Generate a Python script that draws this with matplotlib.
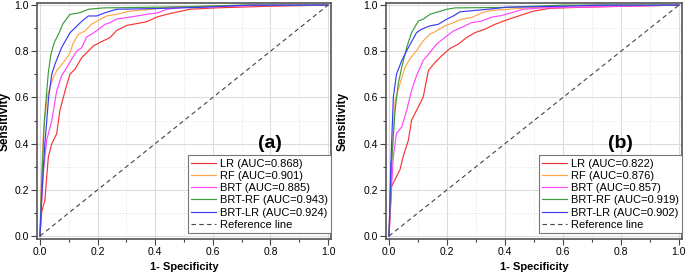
import matplotlib
matplotlib.use('Agg')
import matplotlib.pyplot as plt
from matplotlib.ticker import MultipleLocator

plt.rcParams['font.family'] = ['Liberation Sans', 'DejaVu Sans']

# ---- panel (a) ----
lr_a_x = [0, 0.006, 0.017, 0.029, 0.041, 0.058, 0.069, 0.087, 0.104, 0.122, 0.145, 0.162, 0.185,
          0.214, 0.243, 0.266, 0.301, 0.336, 0.37, 0.41, 0.44, 0.52, 0.61, 0.79, 1.0]
lr_a_y = [0, 0.105, 0.155, 0.342, 0.40, 0.443, 0.543, 0.629, 0.701, 0.723, 0.773, 0.794, 0.823,
          0.842, 0.859, 0.89, 0.912, 0.92, 0.928, 0.95, 0.96, 0.982, 0.988, 0.995, 1.0]
rf_a_x = [0, 0.005, 0.012, 0.025, 0.035, 0.046, 0.06, 0.081, 0.102, 0.116, 0.133, 0.156, 0.179,
          0.208, 0.231, 0.266, 0.3125, 0.382, 0.44, 0.6, 0.75, 1.0]
rf_a_y = [0, 0.25, 0.45, 0.6, 0.644, 0.687, 0.72, 0.751, 0.787, 0.837, 0.873, 0.888, 0.917,
          0.938, 0.953, 0.96, 0.974, 0.982, 0.99, 0.995, 1.0, 1.0]
brt_a_x = [0, 0.006, 0.012, 0.023, 0.041, 0.058, 0.075, 0.093, 0.11, 0.127, 0.145, 0.162, 0.179,
           0.203, 0.226, 0.243, 0.266, 0.3125, 0.37, 0.41, 0.44, 0.5, 0.75, 1.0]
brt_a_y = [0, 0.15, 0.28, 0.414, 0.5, 0.629, 0.694, 0.73, 0.766, 0.80, 0.816, 0.862, 0.874,
           0.895, 0.917, 0.924, 0.94, 0.948, 0.96, 0.967, 0.982, 0.99, 0.998, 1.0]
brtrf_a_x = [0, 0.005, 0.015, 0.029, 0.038, 0.05, 0.064, 0.08, 0.104, 0.139, 0.168, 0.22, 0.35,
             0.5, 0.7, 1.0]
brtrf_a_y = [0, 0.2, 0.5, 0.708, 0.787, 0.84, 0.873, 0.92, 0.96, 0.967, 0.982, 0.988, 0.99,
             0.993, 1.0, 1.0]
brtlr_a_x = [0, 0.005, 0.017, 0.03, 0.041, 0.052, 0.075, 0.104, 0.122, 0.145, 0.168, 0.197,
             0.226, 0.266, 0.4, 0.55, 0.73, 1.0]
brtlr_a_y = [0, 0.15, 0.4, 0.6, 0.701, 0.744, 0.816, 0.88, 0.902, 0.93, 0.953, 0.953,
             0.967, 0.982, 0.985, 0.99, 1.0, 1.0]

# ---- panel (b) ----
lr_b_x = [0, 0.009, 0.021, 0.038, 0.049, 0.067, 0.078, 0.101, 0.118, 0.136, 0.159, 0.182, 0.21,
          0.239, 0.268, 0.297, 0.331, 0.366, 0.4, 0.44, 0.498, 0.555, 0.67, 1.0]
lr_b_y = [0, 0.216, 0.245, 0.288, 0.345, 0.416, 0.502, 0.559, 0.602, 0.717, 0.752, 0.781, 0.812,
          0.831, 0.86, 0.881, 0.896, 0.917, 0.933, 0.95, 0.974, 0.986, 0.991, 1.0]
rf_b_x = [0, 0.008, 0.021, 0.038, 0.055, 0.072, 0.095, 0.118, 0.141, 0.164, 0.193, 0.222, 0.25,
          0.285, 0.32, 0.354, 0.5, 0.7, 1.0]
rf_b_y = [0, 0.3, 0.588, 0.66, 0.731, 0.767, 0.803, 0.845, 0.874, 0.888, 0.91, 0.924, 0.939,
          0.946, 0.967, 0.977, 0.99, 1.0, 1.0]
brt_b_x = [0, 0.008, 0.015, 0.026, 0.044, 0.061, 0.078, 0.095, 0.118, 0.141, 0.164, 0.193, 0.222,
           0.25, 0.285, 0.32, 0.354, 0.389, 0.423, 0.463, 0.532, 0.8, 1.0]
brt_b_y = [0, 0.2, 0.345, 0.445, 0.473, 0.545, 0.631, 0.695, 0.76, 0.795, 0.831, 0.86, 0.888,
           0.903, 0.924, 0.931, 0.948, 0.955, 0.967, 0.982, 0.988, 0.995, 1.0]
brtrf_b_x = [0, 0.008, 0.021, 0.032, 0.044, 0.061, 0.078, 0.101, 0.118, 0.141, 0.17, 0.199,
             0.228, 0.4, 0.6, 1.0]
brtrf_b_y = [0, 0.3, 0.545, 0.66, 0.731, 0.817, 0.881, 0.931, 0.939, 0.96, 0.971, 0.982,
             0.988, 0.99, 1.0, 1.0]
brtlr_b_x = [0, 0.006, 0.015, 0.026, 0.044, 0.067, 0.095, 0.113, 0.141, 0.17, 0.199, 0.222,
             0.245, 0.297, 0.342, 0.406, 0.6, 0.73, 1.0]
brtlr_b_y = [0, 0.3, 0.602, 0.702, 0.76, 0.817, 0.881, 0.896, 0.91, 0.917, 0.939, 0.953,
             0.971, 0.977, 0.982, 0.991, 0.995, 1.0, 1.0]

models = ['LR', 'RF', 'BRT', 'BRT-RF', 'BRT-LR']
auc_a = [0.868, 0.901, 0.885, 0.943, 0.924]
auc_b = [0.822, 0.876, 0.857, 0.919, 0.902]
colors = ['#f53535', '#ffa54a', '#ff45ff', '#3c9c3c', '#3c3cf5']

panels = [
    ('(a)', auc_a, [(lr_a_x, lr_a_y), (rf_a_x, rf_a_y), (brt_a_x, brt_a_y),
                    (brtrf_a_x, brtrf_a_y), (brtlr_a_x, brtlr_a_y)]),
    ('(b)', auc_b, [(lr_b_x, lr_b_y), (rf_b_x, rf_b_y), (brt_b_x, brt_b_y),
                    (brtrf_b_x, brtrf_b_y), (brtlr_b_x, brtlr_b_y)]),
]

fig = plt.figure(figsize=(6.85, 2.76), dpi=100)
axes_pos = [[0.054, 0.134, 0.4292, 0.855], [0.5635, 0.134, 0.432, 0.855]]
ylab_x = [-0.088, -0.125]

for i, (tag, aucs, curves) in enumerate(panels):
    ax = fig.add_axes(axes_pos[i])
    for name, auc, (xs, ys), c in zip(models, aucs, curves, colors):
        ax.plot(xs, ys, color=c, lw=0.85, label='%s (AUC=%.3f)' % (name, auc))
    ax.plot([0, 1], [0, 1], color='#444444', lw=0.8, ls=(0, (4, 3)), label='Reference line')

    ax.set_xlim(-0.0104, 1.0104)
    ax.set_ylim(-0.013, 1.009)
    ax.xaxis.set_major_locator(MultipleLocator(0.2))
    ax.yaxis.set_major_locator(MultipleLocator(0.2))
    ax.xaxis.set_minor_locator(MultipleLocator(0.1))
    ax.yaxis.set_minor_locator(MultipleLocator(0.1))
    ax.grid(which='major', color='#dcdcdc', lw=0.8, ls='-')
    ax.grid(which='minor', color='#e2e2e2', lw=0.7, ls=':')
    ax.set_axisbelow(True)
    ax.tick_params(which='major', direction='out', length=4, width=0.8, labelsize=7.5,
                   color='#444444', pad=2)
    ax.tick_params(which='minor', direction='out', length=2.2, width=0.8, color='#444444')
    for s in ax.spines.values():
        s.set_color('#555555')
        s.set_linewidth(1.2)

    ax.set_xlabel('1- Specificity', fontsize=8, fontweight='bold')
    ax.set_ylabel('Sensitivity', fontsize=8.5, fontweight='bold')
    ax.xaxis.set_label_coords(0.5, -0.097)
    ax.yaxis.set_label_coords(ylab_x[i], 0.5)

    ax.text(0.80, 0.40, tag, fontsize=14, fontweight='bold', ha='center', va='center')

    leg = ax.legend(loc='lower right', bbox_to_anchor=(1.0, 0.025), borderaxespad=0,
                    fontsize=8, fancybox=False, framealpha=1, edgecolor='#777777',
                    handlelength=2.2, handletextpad=0.35, labelspacing=0.2,
                    borderpad=0.3)
    leg.get_frame().set_linewidth(0.8)

fig.savefig('out.png', dpi=100)
